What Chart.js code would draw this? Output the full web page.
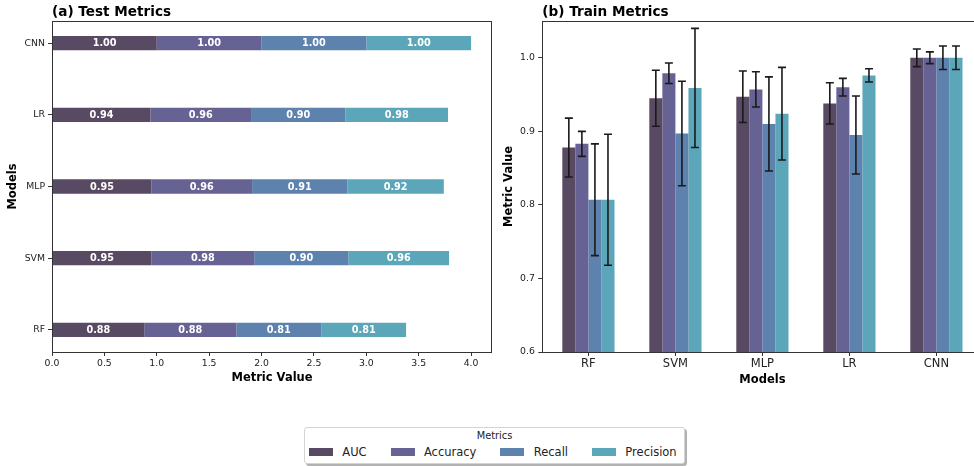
<!DOCTYPE html>
<html>
<head>
<meta charset="utf-8">
<script src="https://cdn.jsdelivr.net/npm/chart.js@4.4.1/dist/chart.umd.min.js"></script>
<style>
  html, body { margin: 0; padding: 0; background: #fff; }
  body { width: 974px; height: 466px; overflow: hidden; position: relative; font-family: "DejaVu Sans", sans-serif; }
  #test { position: absolute; left: 0; top: 0; }
  #train { position: absolute; left: 500px; top: 0; }
  #legend {
    position: absolute; left: 304px; top: 427px; width: 379px; height: 35px;
    border: 1px solid #d4d4d4; border-radius: 3px; background: #fff;
    box-shadow: 2px 2px 0 rgba(0,0,0,0.3);
  }
  #legend .ltitle {
    position: absolute; left: 0; right: 0; top: 2px; text-align: center;
    font-size: 9.8px; line-height: 12px; color: #222;
  }
  #legend .litems {
    position: absolute; left: 4px; top: 17px; display: flex; align-items: center;
    font-size: 11.5px; line-height: 14px; color: #222; white-space: nowrap;
  }
  #legend .sw { width: 24px; height: 8px; margin-right: 9.3px; }
  #legend .lab { margin-right: 24px; }
</style>
</head>
<body>
<canvas id="test" width="500" height="400"></canvas>
<canvas id="train" width="490" height="400"></canvas>
<div id="legend"><div class="ltitle">Metrics</div><div class="litems"></div></div>
<script>
// Models, in axis order (bottom-to-top on the left panel, left-to-right on the right panel)
const categories = ['RF', 'SVM', 'MLP', 'LR', 'CNN'];
const metrics = ['AUC', 'Accuracy', 'Recall', 'Precision'];
const metricColors = ['#594a63', '#676294', '#5d82ae', '#5ca6b9'];

// Test scores per metric
const testAUC       = [0.88, 0.95, 0.95, 0.94, 1.00];
const testAccuracy  = [0.88, 0.98, 0.96, 0.96, 1.00];
const testRecall    = [0.81, 0.90, 0.91, 0.90, 1.00];
const testPrecision = [0.81, 0.96, 0.92, 0.98, 1.00];

// Train scores (mean over folds) per metric
const trainAUC       = [0.878, 0.945, 0.947, 0.938, 1.000];
const trainAccuracy  = [0.883, 0.979, 0.957, 0.960, 1.000];
const trainRecall    = [0.807, 0.897, 0.910, 0.895, 1.000];
const trainPrecision = [0.807, 0.959, 0.924, 0.976, 1.000];

// Train standard deviations per metric
const trainAUCStd       = [0.040, 0.038, 0.035, 0.028, 0.012];
const trainAccuracyStd  = [0.017, 0.014, 0.024, 0.012, 0.008];
const trainRecallStd    = [0.076, 0.071, 0.064, 0.053, 0.016];
const trainPrecisionStd = [0.089, 0.081, 0.063, 0.009, 0.016];

// Axis ticks
const testValueTicks = [0, 0.5, 1, 1.5, 2, 2.5, 3, 3.5, 4];
const trainValueTicks = [0.6, 0.7, 0.8, 0.9, 1.0];

const testSeries = [testAUC, testAccuracy, testRecall, testPrecision];
const trainSeries = [trainAUC, trainAccuracy, trainRecall, trainPrecision];
const trainStd = [trainAUCStd, trainAccuracyStd, trainRecallStd, trainPrecisionStd];

Chart.defaults.font.family = '"DejaVu Sans", sans-serif';
Chart.defaults.color = '#222';

const FONT = '"DejaVu Sans", sans-serif';
const tickFont = { family: FONT, size: 9.3 };
const modelTickFont = { family: FONT, size: 11.5 };
const axisTitleFont = { family: FONT, size: 11.5, weight: 'bold' };
const gridOpts = { display: true, offset: false, drawOnChartArea: false, drawTicks: true, tickLength: 4, color: '#333', tickWidth: 1 };

// Frame around the plotting area plus the panel heading
function framePlugin(heading) {
  return {
    id: 'frame',
    afterDraw(chart) {
      const { ctx, chartArea: a } = chart;
      ctx.save();
      ctx.strokeStyle = '#333';
      ctx.lineWidth = 1;
      ctx.strokeRect(Math.round(a.left) + 0.5, Math.round(a.top) + 0.5,
                     Math.round(a.right - a.left) - 1, Math.round(a.bottom - a.top));
      ctx.fillStyle = '#000';
      ctx.font = 'bold 13.6px ' + FONT;
      ctx.textAlign = 'left';
      ctx.textBaseline = 'alphabetic';
      ctx.fillText(heading, a.left, 15.5);
      ctx.restore();
    }
  };
}

// Value labels inside each stacked segment
const segmentLabels = {
  id: 'segmentLabels',
  afterDatasetsDraw(chart) {
    const { ctx } = chart;
    ctx.save();
    ctx.fillStyle = '#fff';
    ctx.font = 'bold 9.7px ' + FONT;
    ctx.textAlign = 'center';
    ctx.textBaseline = 'middle';
    chart.data.datasets.forEach((ds, di) => {
      const meta = chart.getDatasetMeta(di);
      meta.data.forEach((bar, i) => {
        const cx = (bar.x + bar.base) / 2;
        ctx.fillText(ds.data[i].x.toFixed(2), cx, bar.y + 0.5);
      });
    });
    ctx.restore();
  }
};

// Standard-deviation whiskers on the grouped bars
const errorBars = {
  id: 'errorBars',
  afterDatasetsDraw(chart) {
    const { ctx } = chart;
    const yScale = chart.scales.y;
    ctx.save();
    ctx.strokeStyle = '#1a1a1a';
    ctx.lineWidth = 1.6;
    chart.data.datasets.forEach((ds, di) => {
      const meta = chart.getDatasetMeta(di);
      meta.data.forEach((bar, i) => {
        const m = ds.data[i].y, s = ds.err[i];
        const yt = yScale.getPixelForValue(m + s);
        const yb = yScale.getPixelForValue(m - s);
        const x = bar.x;
        ctx.beginPath();
        ctx.moveTo(x, yt); ctx.lineTo(x, yb);
        ctx.moveTo(x - 4, yt); ctx.lineTo(x + 4, yt);
        ctx.moveTo(x - 4, yb); ctx.lineTo(x + 4, yb);
        ctx.stroke();
      });
    });
    ctx.restore();
  }
};

// (a) Test metrics: horizontal stacked bars
new Chart(document.getElementById('test'), {
  type: 'bar',
  data: {
    datasets: metrics.map((name, k) => ({
      label: name,
      data: testSeries[k].map((v, i) => ({ x: v, y: i })),
      backgroundColor: metricColors[k],
      borderWidth: 0,
      categoryPercentage: 0.2,
      barPercentage: 1.0
    }))
  },
  options: {
    indexAxis: 'y',
    responsive: false,
    animation: false,
    layout: { padding: { top: 21, right: 8, left: 0, bottom: 0 } },
    plugins: { legend: { display: false }, tooltip: { enabled: false } },
    scales: {
      x: {
        type: 'linear', stacked: true, min: 0, max: 4.2, offset: false,
        afterBuildTicks(scale) { scale.ticks = testValueTicks.map(v => ({ value: v })); },
        afterFit(scale) { scale.height = 48; },
        grid: gridOpts, border: { display: false },
        ticks: { font: tickFont, padding: 2, maxRotation: 0, callback: v => Number(v).toFixed(1) },
        title: { display: true, text: 'Metric Value', font: axisTitleFont, color: '#000', padding: { top: 0, bottom: 15 } }
      },
      y: {
        type: 'linear', stacked: true, min: -0.31, max: 4.31, offset: false,
        afterBuildTicks(scale) { scale.ticks = categories.map((c, i) => ({ value: i })); },
        afterFit(scale) { scale.width = 52; },
        grid: gridOpts, border: { display: false },
        ticks: { font: tickFont, padding: 3, callback: v => categories[v] ?? '' },
        title: { display: true, text: 'Models', font: axisTitleFont, color: '#000', padding: { top: 6, bottom: 0 } }
      }
    }
  },
  plugins: [framePlugin('(a) Test Metrics'), segmentLabels]
});

// (b) Train metrics: grouped bars with whiskers
new Chart(document.getElementById('train'), {
  type: 'bar',
  data: {
    datasets: metrics.map((name, k) => ({
      label: name,
      data: trainSeries[k].map((v, i) => ({ x: i, y: v })),
      err: trainStd[k],
      backgroundColor: metricColors[k],
      borderWidth: 0,
      categoryPercentage: 0.6,
      barPercentage: 1.0
    }))
  },
  options: {
    responsive: false,
    animation: false,
    layout: { padding: { top: 21, right: 7.5, left: 0, bottom: 0 } },
    plugins: { legend: { display: false }, tooltip: { enabled: false } },
    scales: {
      x: {
        type: 'linear', min: -0.53, max: 4.53, offset: false,
        afterBuildTicks(scale) { scale.ticks = categories.map((c, i) => ({ value: i })); },
        afterFit(scale) { scale.height = 48; },
        grid: gridOpts, border: { display: false },
        ticks: { font: modelTickFont, padding: 1.5, maxRotation: 0, callback: v => categories[v] ?? '' },
        title: { display: true, text: 'Models', font: axisTitleFont, color: '#000', padding: { top: 0, bottom: 13 } }
      },
      y: {
        type: 'linear', min: 0.6, max: 1.05,
        afterBuildTicks(scale) { scale.ticks = trainValueTicks.map(v => ({ value: v })); },
        afterFit(scale) { scale.width = 42.3; },
        grid: gridOpts, border: { display: false },
        ticks: { font: tickFont, padding: 3.5, callback: v => Number(v).toFixed(1) },
        title: { display: true, text: 'Metric Value', font: axisTitleFont, color: '#000', padding: { top: 2.5, bottom: 0 } }
      }
    }
  },
  plugins: [framePlugin('(b) Train Metrics'), errorBars]
});

// Shared legend
const items = document.querySelector('#legend .litems');
metrics.forEach((name, k) => {
  const sw = document.createElement('span');
  sw.className = 'sw';
  sw.style.background = metricColors[k];
  const lab = document.createElement('span');
  lab.className = 'lab';
  lab.textContent = name;
  items.appendChild(sw);
  items.appendChild(lab);
});
</script>
</body>
</html>
